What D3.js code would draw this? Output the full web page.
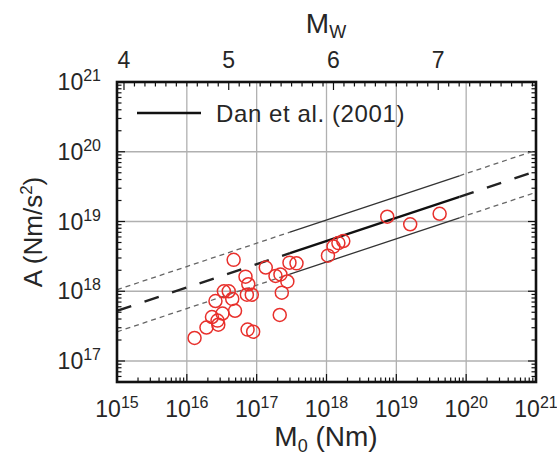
<!DOCTYPE html>
<html>
<head>
<meta charset="utf-8">
<script src="https://cdn.jsdelivr.net/npm/d3@7"></script>
<style>
body { margin: 0; background: #fff; }
text { font-family: "Liberation Sans", Arial, sans-serif; fill: #262626; }
</style>
</head>
<body>
<svg width="557" height="457"></svg>
<script>
// seismic moment M0 (Nm) and source acceleration level A (Nm/s^2)
var m0 = [1.29e16, 1.91e16, 2.82e16, 2.29e16, 3.24e16, 2.75e16, 2.57e16, 3.39e16, 3.98e16, 4.47e16, 4.90e16,
          4.68e16, 6.92e16, 7.59e16, 7.24e16, 8.51e16, 7.41e16, 8.91e16, 1.35e17, 1.86e17, 2.19e17, 2.29e17,
          2.14e17, 2.75e17, 2.95e17, 3.72e17, 1.05e18, 1.26e18, 1.48e18, 1.74e18, 7.41e18, 1.58e19, 4.17e19];
var accel = [2.14e17, 3.02e17, 3.31e17, 4.27e17, 4.79e17, 3.80e17, 7.24e17, 1.0e18, 1.0e18, 7.76e17, 5.25e17,
             2.82e18, 1.62e18, 1.26e18, 8.91e17, 8.91e17, 2.82e17, 2.63e17, 2.19e18, 1.66e18, 1.74e18, 9.55e17,
             4.57e17, 1.38e18, 2.57e18, 2.51e18, 3.24e18, 4.37e18, 4.90e18, 5.25e18, 1.17e19, 9.12e18, 1.29e19];

// Dan et al. (2001) relation and its factor-of-two band (ends, start/end of solid part)
var fitM0 = [1e15, 3e17, 8e19, 1e21];
var fitMid = [5.25e17, 3.52e18, 2.26e19, 5.25e19];
var fitUp = [1.05e18, 7.04e18, 4.52e19, 1.05e20];
var fitLo = [2.62e17, 1.76e18, 1.13e19, 2.62e19];

var xTickExp = [15, 16, 17, 18, 19, 20, 21];
var yTickExp = [17, 18, 19, 20, 21];
var mwTicks = [4, 5, 6, 7];

var svg = d3.select("svg"),
    pL = 117, pR = 536, pT = 82, pB = 382;

var x = d3.scaleLog().domain([1e15, 1e21]).range([pL, pR]);
var y = d3.scaleLog().domain([5e16, 1e21]).range([pB, pT]);
var mwToM0 = function(mw) { return Math.pow(10, 1.5 * mw + 9.1); };

svg.append("clipPath").attr("id", "clip")
  .append("rect").attr("x", pL).attr("y", pT).attr("width", pR - pL).attr("height", pB - pT);

// grid
var g = svg.append("g");
g.selectAll(".vg").data(xTickExp.slice(1, -1)).enter().append("line")
    .attr("x1", function(d) { return x(Math.pow(10, d)); })
    .attr("x2", function(d) { return x(Math.pow(10, d)); })
    .attr("y1", pT).attr("y2", pB)
    .attr("stroke", "#b0b0b0").attr("stroke-width", 1.3);
g.selectAll(".hg").data(yTickExp.slice(0, -1)).enter().append("line")
    .attr("y1", function(d) { return y(Math.pow(10, d)); })
    .attr("y2", function(d) { return y(Math.pow(10, d)); })
    .attr("x1", pL).attr("x2", pR)
    .attr("stroke", "#b0b0b0").attr("stroke-width", 1.3);

// ticks
var minorX = [], minorY = [];
xTickExp.slice(0, -1).forEach(function(e) {
  for (var k = 1; k < 10; k++) minorX.push({v: k * Math.pow(10, e), major: k == 1});
});
minorX.push({v: 1e21, major: true});
[16, 17, 18, 19, 20].forEach(function(e) {
  for (var k = 1; k < 10; k++) {
    var v = k * Math.pow(10, e);
    if (v >= 5e16) minorY.push({v: v, major: k == 1});
  }
});
minorY.push({v: 1e21, major: true});

var ticks = svg.append("g").attr("stroke", "#111").attr("stroke-width", 1.2);
ticks.selectAll(".tb").data(minorX).enter().append("line")
    .attr("x1", function(d) { return x(d.v); }).attr("x2", function(d) { return x(d.v); })
    .attr("y1", pB).attr("y2", function(d) { return pB - (d.major ? 8 : 4.5); });
ticks.selectAll(".tl").data(minorY).enter().append("line")
    .attr("y1", function(d) { return y(d.v); }).attr("y2", function(d) { return y(d.v); })
    .attr("x1", pL).attr("x2", function(d) { return pL + (d.major ? 8 : 4.5); });
ticks.selectAll(".tr").data(minorY).enter().append("line")
    .attr("y1", function(d) { return y(d.v); }).attr("y2", function(d) { return y(d.v); })
    .attr("x1", pR).attr("x2", function(d) { return pR - (d.major ? 8 : 4.5); });
var mwMinor = d3.range(40, 80).map(function(i) { return i / 10; });
ticks.selectAll(".tt").data(mwMinor).enter().append("line")
    .attr("x1", function(d) { return x(mwToM0(d)); }).attr("x2", function(d) { return x(mwToM0(d)); })
    .attr("y1", pT).attr("y2", function(d) { return pT + (Math.abs(d - Math.round(d)) < 1e-6 ? 8 : 4.5); });

// fit lines
var line = d3.line().x(function(d) { return x(d[0]); }).y(function(d) { return y(d[1]); });
var fits = svg.append("g").attr("clip-path", "url(#clip)").attr("fill", "none");
function drawFit(vals, solidW, solidC, dash, dashC, dashW) {
  var pts = fitM0.map(function(m, i) { return [m, vals[i]]; });
  fits.append("path").attr("d", line([pts[0], pts[1]]))
      .attr("stroke", dashC).attr("stroke-width", dashW).attr("stroke-dasharray", dash);
  fits.append("path").attr("d", line([pts[2], pts[3]]))
      .attr("stroke", dashC).attr("stroke-width", dashW).attr("stroke-dasharray", dash);
  fits.append("path").attr("d", line([pts[1], pts[2]]))
      .attr("stroke", solidC).attr("stroke-width", solidW);
}
drawFit(fitUp, 1.3, "#333", "5,4", "#666", 1.3);
drawFit(fitLo, 1.3, "#333", "5,4", "#666", 1.3);
drawFit(fitMid, 2.4, "#111", "15,14", "#222", 2.4);

// data points
svg.append("g").selectAll("circle").data(m0).enter().append("circle")
    .attr("cx", function(d) { return x(d); })
    .attr("cy", function(d, i) { return y(accel[i]); })
    .attr("r", 6.5)
    .attr("fill", "none").attr("stroke", "#e8302c").attr("stroke-width", 1.5);

// frame
svg.append("rect").attr("x", pL).attr("y", pT).attr("width", pR - pL).attr("height", pB - pT)
    .attr("fill", "none").attr("stroke", "#111").attr("stroke-width", 2.6);

// tick labels
var bl = svg.append("g").selectAll("text").data(xTickExp).enter().append("text")
    .attr("x", function(d) { return x(Math.pow(10, d)); })
    .attr("y", 417).attr("text-anchor", "middle").style("font-size", "23px");
bl.append("tspan").text("10");
bl.append("tspan").attr("dy", -9).style("font-size", "16px").text(function(d) { return d; });

var ll = svg.append("g").selectAll("text").data(yTickExp).enter().append("text")
    .attr("x", 101).attr("y", function(d) { return y(Math.pow(10, d)) + 8; })
    .attr("text-anchor", "end").style("font-size", "23px");
ll.append("tspan").text("10");
ll.append("tspan").attr("dy", -9).style("font-size", "16px").text(function(d) { return d; });

svg.append("g").selectAll("text").data(mwTicks).enter().append("text")
    .attr("x", function(d) { return x(mwToM0(d)); }).attr("y", 68)
    .attr("text-anchor", "middle").style("font-size", "23px").text(function(d) { return d; });

// axis titles
var tb = svg.append("text").attr("x", 326).attr("y", 446).attr("text-anchor", "middle").style("font-size", "28px");
tb.append("tspan").text("M");
tb.append("tspan").attr("dy", 6).style("font-size", "18px").text("0");
tb.append("tspan").attr("dy", -6).text(" (Nm)");

var tt = svg.append("text").attr("x", 326).attr("y", 33).attr("text-anchor", "middle").style("font-size", "28px");
tt.append("tspan").text("M");
tt.append("tspan").attr("dy", 5).style("font-size", "18px").text("W");

var ty = svg.append("text").attr("transform", "translate(42,232) rotate(-90)")
    .attr("text-anchor", "middle").style("font-size", "26px");
ty.append("tspan").text("A (Nm/s");
ty.append("tspan").attr("dy", -10).style("font-size", "17px").text("2");
ty.append("tspan").attr("dy", 10).text(")");

// legend
svg.append("line").attr("x1", 137).attr("x2", 201).attr("y1", 113).attr("y2", 113)
    .attr("stroke", "#111").attr("stroke-width", 2.4);
svg.append("text").attr("x", 216).attr("y", 122).style("font-size", "24px")
    .style("letter-spacing", "0.6px").text("Dan et al. (2001)");
</script>
</body>
</html>
